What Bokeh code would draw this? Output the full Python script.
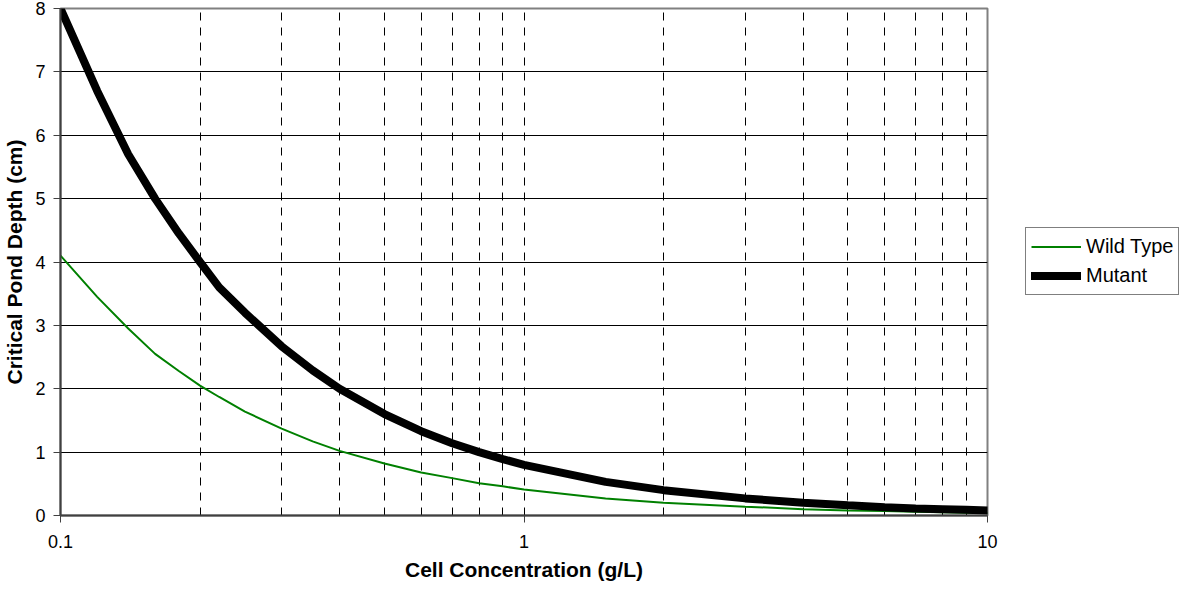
from bokeh.plotting import figure
from bokeh.models import FixedTicker, Legend, LegendItem, Range1d
from bokeh.embed import file_html
from bokeh.resources import INLINE

conc = [0.1, 0.12, 0.14, 0.16, 0.18, 0.2, 0.22, 0.25, 0.3, 0.35, 0.4, 0.5, 0.6, 0.7,
        0.8, 0.9, 1.0, 1.5, 2.0, 3.0, 4.0, 5.0, 6.0, 7.0, 8.0, 9.0, 10.0]
wild_type = [4.1, 3.45, 2.95, 2.55, 2.28, 2.05, 1.87, 1.64, 1.37, 1.17, 1.02, 0.82, 0.68, 0.59,
             0.51, 0.46, 0.41, 0.27, 0.2, 0.14, 0.1, 0.08, 0.07, 0.06, 0.05, 0.045, 0.04]
mutant = [8.0, 6.7, 5.7, 5.0, 4.45, 4.0, 3.6, 3.2, 2.67, 2.29, 2.0, 1.6, 1.33, 1.14,
          1.0, 0.89, 0.8, 0.53, 0.4, 0.27, 0.2, 0.16, 0.13, 0.11, 0.1, 0.09, 0.08]
x_ticks = [0.1, 1, 10]
x_tick_labels = {0.1: "0.1", 1: "1", 10: "10"}
x_grid = [0.2, 0.3, 0.4, 0.5, 0.6, 0.7, 0.8, 0.9, 1, 2, 3, 4, 5, 6, 7, 8, 9]
y_ticks = [0, 1, 2, 3, 4, 5, 6, 7, 8]

FONT = "Liberation Sans"

p = figure(x_axis_type="log", x_range=Range1d(0.1, 10), y_range=Range1d(0, 8),
           frame_width=927, frame_height=507,
           min_border_left=0, min_border_top=0, min_border_right=192, min_border_bottom=0,
           output_backend="svg", toolbar_location=None)
p.title.text = " "
p.title.text_font_size = "6px"
p.title.standoff = 0
p.background_fill_color = "white"
p.border_fill_color = "white"
p.outline_line_color = "#808080"
p.outline_line_width = 2

p.xaxis.ticker = FixedTicker(ticks=x_ticks)
p.xaxis.major_label_overrides = x_tick_labels
p.yaxis.ticker = FixedTicker(ticks=y_ticks)
for ax in (p.xaxis[0], p.yaxis[0]):
    ax.axis_line_color = "#404040"
    ax.axis_line_width = 2
    ax.major_tick_line_color = "#404040"
    ax.major_tick_line_width = 1
    ax.major_tick_out = 7
    ax.major_tick_in = 0
    ax.minor_tick_line_color = None
    ax.major_label_text_font = FONT
    ax.major_label_text_font_size = "18px"
    ax.major_label_text_color = "black"
    ax.axis_label_text_font = FONT
    ax.axis_label_text_font_style = "bold"
    ax.axis_label_text_color = "black"
p.xaxis.axis_label = "Cell Concentration (g/L)"
p.yaxis.axis_label = "Critical Pond Depth (cm)"
p.xaxis.axis_label_text_font_size = "21px"
p.yaxis.axis_label_text_font_size = "21px"
p.xaxis.major_label_standoff = 12
p.xaxis.axis_label_standoff = 7
p.yaxis.major_label_standoff = 8
p.yaxis.axis_label_standoff = 6

p.xgrid.ticker = FixedTicker(ticks=x_grid)
p.xgrid.grid_line_color = "black"
p.xgrid.grid_line_width = 1
p.xgrid.grid_line_dash = "8 7"
p.ygrid.ticker = FixedTicker(ticks=[1, 2, 3, 4, 5, 6, 7])
p.ygrid.grid_line_color = "black"
p.ygrid.grid_line_width = 1

r_wild = p.line(conc, wild_type, line_color="#008000", line_width=2)
r_mut = p.line(conc, mutant, line_color="black", line_width=8, line_cap="round")

legend = Legend(items=[LegendItem(label="Wild Type", renderers=[r_wild]),
                       LegendItem(label="Mutant", renderers=[r_mut])],
                location=(38, 220))
legend.border_line_color = "black"
legend.border_line_width = 1
legend.background_fill_color = "white"
legend.background_fill_alpha = 1
legend.label_text_font = FONT
legend.label_text_font_size = "20px"
legend.label_text_color = "black"
legend.glyph_width = 50
legend.glyph_height = 27
legend.label_standoff = 5
legend.padding = 5
legend.spacing = 2
legend.margin = 0
p.add_layout(legend, "right")

open("out.html", "w").write(file_html(p, INLINE))
